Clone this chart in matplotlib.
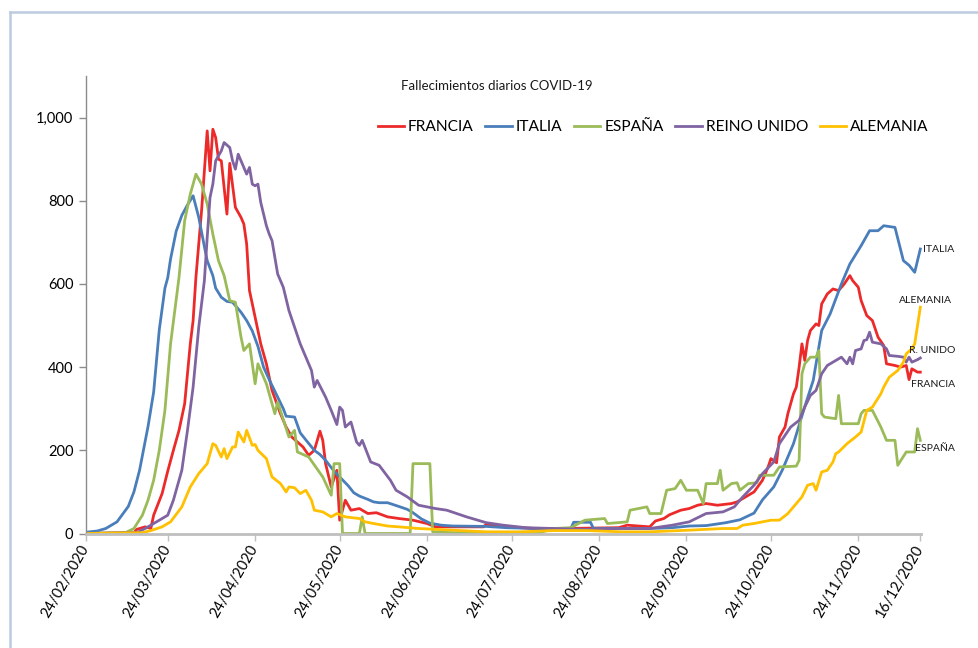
import matplotlib
matplotlib.use("Agg")
import matplotlib.pyplot as plt
import matplotlib.ticker as mticker
from matplotlib.lines import Line2D
import pandas as pd

plt.rcParams['font.family'] = ['Lato', 'DejaVu Sans']

# ---------------- data (day offset from 24/02/2020, daily deaths) ----------------
start_date = "2020-02-24"
end_date = "2020-12-16"

francia_day = [0, 17, 18, 21, 23, 24, 27, 29, 31, 33, 35, 37, 38, 39, 41, 42, 43, 44, 45, 46, 47, 48, 50, 51, 53, 55, 56, 57, 58, 60, 62, 64, 66, 69, 71, 73, 77, 79, 81, 83, 84, 85, 87, 89, 90, 92, 94, 97, 100, 103, 107, 111, 116, 121, 124, 131, 141, 142, 149, 159, 170, 189, 192, 200, 202, 205, 207, 211, 214, 217, 220, 224, 229, 231, 233, 237, 240, 242, 243, 245, 246, 248, 249, 251, 252, 253, 254, 255, 256, 257, 259, 260, 261, 263, 265, 267, 269, 271, 272, 274, 275, 277, 279, 281, 283, 284, 287, 289, 291, 292, 293, 295, 296]
francia_val = [0, 2, 10, 16, 12, 44, 96, 150, 200, 248, 312, 456, 512, 616, 776, 872, 968, 872, 972, 952, 900, 896, 768, 890, 784, 760, 744, 696, 584, 520, 456, 408, 344, 288, 256, 232, 208, 188, 200, 246, 224, 168, 112, 152, 32, 80, 56, 60, 48, 50, 40, 36, 32, 24, 16, 16, 16, 22, 16, 12, 12, 14, 20, 16, 30, 36, 45, 56, 60, 68, 72, 68, 72, 76, 84, 100, 128, 160, 180, 170, 232, 256, 288, 336, 352, 400, 456, 416, 464, 488, 504, 500, 552, 576, 588, 584, 600, 620, 608, 592, 560, 524, 512, 472, 452, 408, 404, 400, 404, 370, 396, 388, 388]

italia_day = [0, 4, 7, 11, 15, 17, 19, 22, 24, 26, 28, 29, 30, 32, 34, 36, 38, 40, 42, 43, 45, 46, 48, 50, 52, 54, 55, 57, 59, 61, 63, 65, 68, 70, 71, 74, 76, 78, 81, 83, 85, 88, 90, 93, 95, 97, 100, 102, 104, 107, 111, 114, 116, 119, 122, 126, 130, 142, 149, 160, 172, 173, 179, 180, 190, 200, 208, 214, 220, 227, 232, 237, 240, 244, 247, 251, 255, 258, 261, 264, 268, 271, 275, 278, 281, 283, 287, 290, 292, 294, 296]
italia_val = [3, 6, 12, 28, 65, 100, 152, 257, 340, 490, 590, 615, 660, 727, 765, 790, 812, 760, 690, 656, 620, 590, 568, 558, 556, 540, 532, 512, 487, 450, 400, 370, 328, 300, 282, 280, 242, 225, 200, 190, 176, 150, 136, 115, 98, 90, 82, 76, 74, 74, 65, 58, 50, 35, 25, 20, 18, 17, 14, 12, 12, 27, 27, 12, 12, 12, 14, 18, 19, 26, 33, 49, 81, 112, 152, 216, 305, 368, 488, 528, 600, 648, 692, 728, 728, 740, 736, 656, 645, 628, 684]

espana_day = [0, 14, 17, 20, 22, 24, 26, 28, 30, 33, 35, 37, 39, 41, 43, 45, 47, 49, 51, 53, 55, 56, 58, 60, 61, 64, 67, 68, 72, 74, 75, 79, 84, 87, 88, 90, 91, 97, 98, 99, 115, 116, 122, 123, 130, 160, 166, 172, 177, 184, 185, 192, 193, 199, 200, 204, 206, 209, 211, 213, 217, 219, 220, 224, 225, 226, 229, 231, 232, 235, 238, 239, 244, 246, 252, 253, 254, 255, 257, 259, 260, 261, 262, 266, 267, 268, 274, 275, 276, 279, 282, 284, 287, 288, 291, 294, 295, 296]
espana_val = [0, 2, 12, 44, 80, 128, 200, 296, 456, 616, 752, 816, 864, 840, 792, 720, 656, 620, 560, 556, 472, 440, 456, 360, 408, 360, 288, 316, 232, 248, 196, 184, 136, 92, 168, 168, 0, 0, 40, 0, 0, 168, 168, 4, 2, 0, 12, 14, 32, 36, 24, 28, 56, 64, 48, 48, 104, 108, 128, 104, 104, 72, 120, 120, 152, 104, 120, 122, 104, 120, 122, 140, 140, 160, 162, 176, 384, 408, 424, 424, 440, 288, 280, 276, 332, 264, 264, 288, 296, 296, 256, 224, 224, 164, 196, 196, 252, 224]

reino_day = [0, 18, 21, 26, 29, 31, 34, 36, 38, 40, 42, 43, 44, 45, 46, 48, 49, 51, 52, 53, 54, 56, 57, 58, 59, 60, 61, 62, 64, 65, 66, 68, 70, 72, 74, 76, 78, 80, 81, 82, 85, 87, 89, 90, 91, 92, 94, 96, 97, 98, 101, 104, 108, 110, 114, 118, 124, 128, 135, 142, 148, 156, 166, 178, 190, 200, 208, 214, 220, 226, 230, 233, 237, 240, 244, 246, 250, 253, 255, 257, 259, 261, 263, 265, 268, 270, 271, 272, 273, 275, 276, 277, 278, 279, 282, 284, 285, 288, 290, 291, 292, 293, 295, 296]
reino_val = [0, 2, 12, 32, 44, 80, 152, 248, 352, 496, 608, 712, 808, 840, 896, 920, 940, 928, 896, 876, 912, 880, 864, 880, 840, 836, 840, 796, 740, 720, 704, 624, 592, 536, 496, 456, 424, 392, 352, 368, 328, 296, 262, 304, 296, 256, 268, 220, 212, 224, 172, 164, 128, 104, 88, 68, 60, 56, 40, 26, 20, 14, 12, 10, 12, 12, 20, 28, 48, 52, 64, 88, 116, 144, 172, 216, 256, 272, 304, 332, 344, 384, 404, 412, 424, 408, 424, 408, 440, 444, 464, 466, 484, 460, 456, 444, 428, 426, 424, 412, 424, 412, 418, 422]

alemania_day = [0, 20, 23, 27, 30, 34, 37, 40, 43, 45, 46, 48, 49, 50, 52, 53, 54, 56, 57, 59, 60, 61, 64, 66, 69, 71, 72, 74, 76, 78, 80, 81, 84, 87, 89, 92, 97, 99, 102, 107, 111, 118, 130, 142, 154, 166, 178, 190, 200, 214, 220, 226, 231, 233, 237, 240, 243, 246, 249, 251, 254, 256, 258, 259, 261, 263, 265, 266, 267, 270, 273, 275, 277, 279, 282, 283, 285, 288, 290, 291, 293, 294, 295, 296]
alemania_val = [0, 2, 7, 16, 28, 64, 112, 144, 168, 216, 212, 184, 204, 180, 208, 208, 244, 220, 248, 212, 214, 200, 180, 136, 120, 100, 112, 110, 96, 104, 80, 56, 52, 40, 48, 40, 36, 28, 24, 18, 16, 12, 8, 4, 4, 7, 7, 4, 4, 8, 10, 12, 12, 20, 24, 28, 32, 32, 48, 64, 88, 116, 120, 104, 148, 152, 172, 192, 196, 216, 232, 244, 296, 304, 336, 352, 376, 392, 412, 432, 444, 456, 500, 544]

tick_dates = ["2020-02-24", "2020-03-24", "2020-04-24", "2020-05-24", "2020-06-24",
              "2020-07-24", "2020-08-24", "2020-09-24", "2020-10-24", "2020-11-24", "2020-12-16"]
tick_labels = ["24/02/2020", "24/03/2020", "24/04/2020", "24/05/2020", "24/06/2020",
               "24/07/2020", "24/08/2020", "24/09/2020", "24/10/2020", "24/11/2020", "16/12/2020"]

series_names = ["FRANCIA", "ITALIA", "ESPAÑA", "REINO UNIDO", "ALEMANIA"]
end_labels = ["FRANCIA", "ITALIA", "ESPAÑA", "R. UNIDO", "ALEMANIA"]
colors = ["#EC2A2A", "#4A7EBB", "#9BBB59", "#8064A2", "#FFC000"]

# ---------------- figure ----------------
W, H = 979, 648
fig = plt.figure(figsize=(W / 100, H / 100), dpi=100)
ax = fig.add_axes([86 / W, (H - 533.5) / H, 835.5 / W, 457.5 / H])

t0 = pd.Timestamp(start_date)
series = [(francia_day, francia_val), (italia_day, italia_val), (espana_day, espana_val),
          (reino_day, reino_val), (alemania_day, alemania_val)]
lines = []
for (days, vals), name, col in zip(series, series_names, colors):
    dates = t0 + pd.to_timedelta(days, unit="D")
    ln, = ax.plot(dates, vals, color=col, lw=2.0, label=name, solid_joinstyle="round")
    lines.append(ln)

ax.set_ylim(0, 1100)
ax.set_xlim(t0, pd.Timestamp(end_date) + pd.Timedelta(hours=10))
ax.set_yticks([0, 200, 400, 600, 800, 1000])
ax.yaxis.set_major_formatter(mticker.FuncFormatter(lambda v, p: f"{v:,.0f}"))
ax.set_xticks(pd.to_datetime(tick_dates))
ax.set_xticklabels(tick_labels, rotation=60, ha="right", va="center",
                   rotation_mode="anchor", fontsize=10.5)
ax.tick_params(axis="x", length=5, width=1, color="#BFBFBF", pad=4)
ax.tick_params(axis="y", length=5, width=1, color="#8C8C8C", pad=4, labelsize=10.5)

for s in ["top", "right"]:
    ax.spines[s].set_visible(False)
ax.spines["left"].set_color("#8C8C8C")
ax.spines["left"].set_linewidth(1.0)
ax.spines["bottom"].set_color("#BFBFBF")
ax.spines["bottom"].set_linewidth(2.0)

# end-of-series labels
offsets = {"FRANCIA": (-9, -12, "left"), "ITALIA": (3, 0, "left"), "ESPAÑA": (-5, -8, "left"),
           "R. UNIDO": (-11, 7, "left"), "ALEMANIA": (5, 7, "center")}
for (days, vals), lab in zip(series, end_labels):
    dx, dy, ha = offsets[lab]
    ax.annotate(lab, (t0 + pd.Timedelta(days=days[-1]), vals[-1]),
                xytext=(dx * 0.72, dy * 0.72), textcoords="offset points",
                ha=ha, va="center", fontsize=7.5, color="#1A1A1A", annotation_clip=False)

# title and legend
fig.text(497 / W, 1 - 86 / H, "Fallecimientos diarios COVID-19", ha="center", va="center",
         fontsize=9.5, color="#1A1A1A")
fig.legend(handles=lines, loc="center", bbox_to_anchor=(653 / W, 1 - 127 / H), ncol=5,
           frameon=False, fontsize=11.2, handlelength=1.7, handletextpad=0.25,
           columnspacing=0.75, borderaxespad=0)

# outer chart border (light blue)
fig.add_artist(Line2D([10 / W, 10 / W], [0, 1 - 12 / H], color="#BCCBE0", lw=1.8,
                      transform=fig.transFigure))
fig.add_artist(Line2D([10 / W, 1], [1 - 12 / H, 1 - 12 / H], color="#BCCBE0", lw=1.8,
                      transform=fig.transFigure))

fig.savefig("out.png", dpi=100)
